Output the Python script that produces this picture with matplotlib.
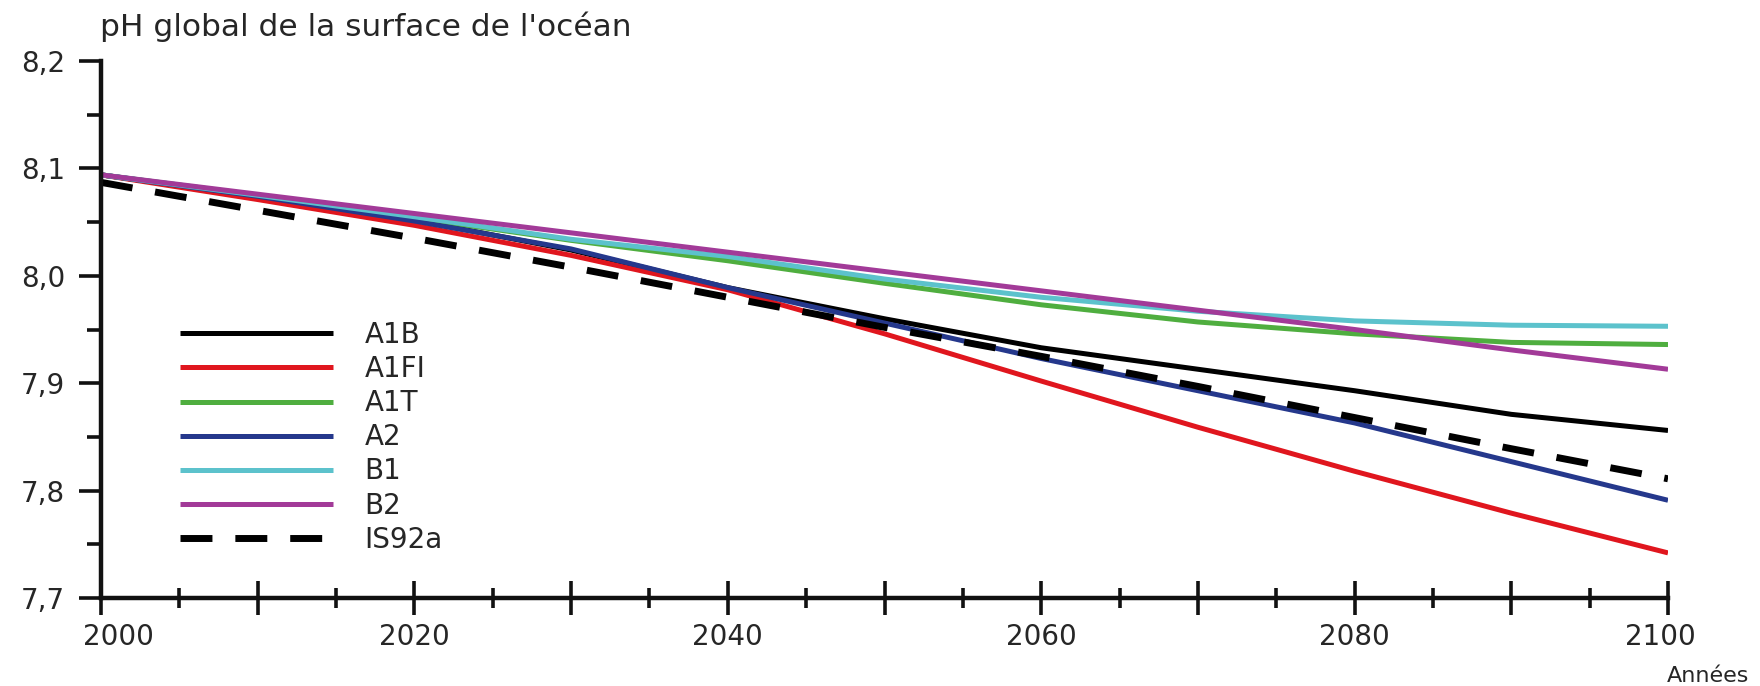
import matplotlib
matplotlib.use("Agg")
import matplotlib.pyplot as plt
from matplotlib.ticker import FixedLocator
from matplotlib.transforms import ScaledTranslation

plt.rcParams['font.family'] = ['DejaVu Sans']

# Years of the projection
years = [2000, 2010, 2020, 2030, 2040, 2050, 2060, 2070, 2080, 2090, 2100]

# Global ocean surface pH per SRES scenario
ph_a1b = [8.094, 8.074, 8.052, 8.024, 7.989, 7.960, 7.933, 7.913, 7.893, 7.871, 7.856]
ph_a1fi = [8.094, 8.071, 8.047, 8.019, 7.987, 7.946, 7.902, 7.859, 7.818, 7.779, 7.742]
ph_a1t = [8.094, 8.075, 8.054, 8.033, 8.014, 7.993, 7.973, 7.957, 7.946, 7.938, 7.936]
ph_a2 = [8.094, 8.074, 8.051, 8.025, 7.989, 7.956, 7.923, 7.893, 7.863, 7.827, 7.791]
ph_b1 = [8.094, 8.075, 8.055, 8.034, 8.018, 7.997, 7.980, 7.967, 7.958, 7.954, 7.953]
ph_b2 = [8.094, 8.076, 8.058, 8.040, 8.022, 8.004, 7.986, 7.968, 7.950, 7.931, 7.913]
ph_is92a = [8.087, 8.061, 8.035, 8.008, 7.980, 7.952, 7.925, 7.897, 7.868, 7.839, 7.811]

labels = ["A1B", "A1FI", "A1T", "A2", "B1", "B2", "IS92a"]
colors = ["#000000", "#e0161e", "#4fae3f", "#25388c", "#5cc2cc", "#a23a98", "#000000"]

y_ticks = [7.7, 7.8, 7.9, 8.0, 8.1, 8.2]
y_labels = ["7,7", "7,8", "7,9", "8,0", "8,1", "8,2"]
x_ticks = [2000, 2010, 2020, 2030, 2040, 2050, 2060, 2070, 2080, 2090, 2100]
x_labels = ["2000", "", "2020", "", "2040", "", "2060", "", "2080", "", "2100"]

W, H = 1760, 686
fig = plt.figure(figsize=(W / 100, H / 100), dpi=100)
ax = fig.add_axes([101 / W, 1 - 598 / H, (1668 - 101) / W, (598 - 61) / H])

series = [ph_a1b, ph_a1fi, ph_a1t, ph_a2, ph_b1, ph_b2, ph_is92a]
for vals, lab, col in zip(series, labels, colors):
    if lab == "IS92a":
        ax.plot(years, vals, color=col, lw=5.0, label=lab,
                dashes=(4.6, 3.3), dash_capstyle="butt", solid_capstyle="butt")
    else:
        ax.plot(years, vals, color=col, lw=3.6, label=lab, solid_capstyle="butt")

ax.set_xlim(2000, 2100)
ax.set_ylim(7.7, 8.2)

for s in ("top", "right"):
    ax.spines[s].set_visible(False)
for s in ("left", "bottom"):
    ax.spines[s].set_linewidth(3.2)
    ax.spines[s].set_color("#111111")

ax.set_yticks(y_ticks, y_labels)
ax.yaxis.set_minor_locator(FixedLocator([7.75, 7.85, 7.95, 8.05, 8.15]))
ax.set_xticks(x_ticks, x_labels)
ax.xaxis.set_minor_locator(FixedLocator([2005, 2015, 2025, 2035, 2045, 2055,
                                         2065, 2075, 2085, 2095]))
ax.tick_params(axis="y", which="major", direction="out", length=15.8, width=2.6,
               pad=10, labelsize=20, colors="#111111", labelcolor="#262626")
ax.tick_params(axis="y", which="minor", direction="out", length=10, width=2.6,
               colors="#111111")
ax.tick_params(axis="x", which="major", direction="inout", length=25, width=2.6,
               pad=5.5, labelsize=20, colors="#111111", labelcolor="#262626")
ax.tick_params(axis="x", which="minor", direction="inout", length=13.7, width=2.6,
               colors="#111111")

xl = ax.get_xticklabels()
xl[0].set_transform(xl[0].get_transform() + ScaledTranslation(17 / 100, 0, fig.dpi_scale_trans))
xl[-1].set_transform(xl[-1].get_transform() + ScaledTranslation(-8 / 100, 0, fig.dpi_scale_trans))

leg = ax.legend(loc="upper left", bbox_to_anchor=(180 / W, 1 - 321 / H),
                bbox_transform=fig.transFigure, frameon=False, fontsize=20,
                handlelength=5.5, handletextpad=1.15, labelspacing=0.22,
                borderpad=0, borderaxespad=0)
for txt in leg.get_texts():
    txt.set_color("#262626")

fig.text(100 / W, 1 - 27 / H, "pH global de la surface de l'océan", fontsize=22.5,
         ha="left", va="center", color="#262626")
fig.text(1708 / W, 1 - 676 / H, "Années", fontsize=16, ha="center", va="center",
         color="#262626")

fig.savefig("out.png", dpi=100)
